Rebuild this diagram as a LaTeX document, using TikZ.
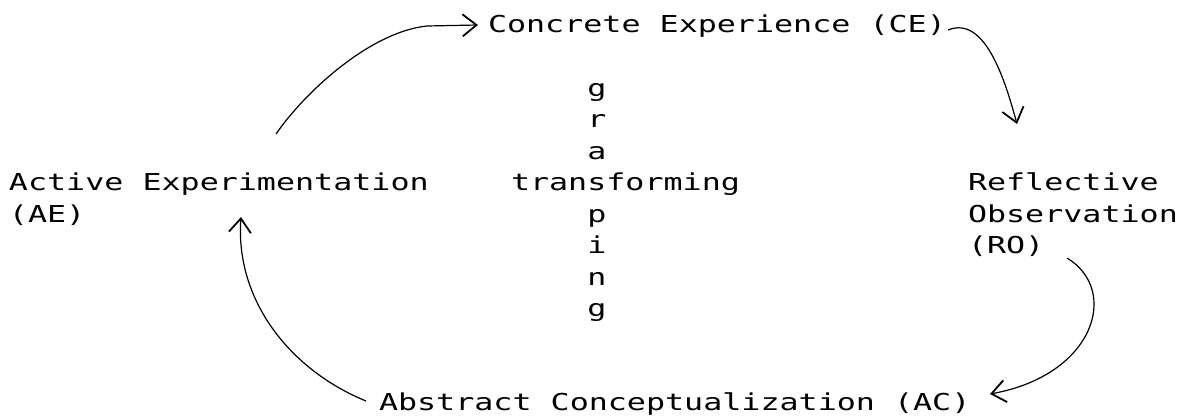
\documentclass[tikz,border=0pt]{standalone}
\usepackage{fontspec}
\newfontfamily\twfont[FakeStretch=1.36]{DejaVu Sans Mono}
\usetikzlibrary{arrows.meta}
\begin{document}
\begin{tikzpicture}[x=1pt,y=-1pt,
  lbl/.style={anchor=base west, inner sep=0pt, outer sep=0pt, align=left,
    font=\twfont\fontsize{23.3}{31.5}\selectfont},
  flow/.style={line width=1.2pt,
    -{Straight Barb[length=14pt,width=22pt,line width=1.8pt]}}]
\useasboundingbox (0,0) rectangle (1187,419);
% texts (a multi-line node's base is the baseline of its last line)
\node[lbl] (ce) at (488,33) {Concrete Experience (CE)};
\node[lbl] (ae) at (9,222.5) {Active Experimentation\\(AE)};
\node[lbl] (ro) at (968,254) {Reflective\\Observation\\(RO)};
\node[lbl] (ac) at (379,411) {Abstract Conceptualization (AC)};
\node[lbl] (tr) at (511,191) {transforming};
\node[lbl] (gu) at (587.3,159.5) {g\\r\\a};
\node[lbl] (gd) at (587.3,317) {p\\i\\n\\g};
% connector end points
\coordinate (a1s) at (276,134);
\coordinate (a1e) at (478,25);
\coordinate (a2s) at (948,30);
\coordinate (a2e) at (1017,124);
\coordinate (a3s) at (1067,258);
\coordinate (a3e) at (990,394);
\coordinate (a4s) at (366,401);
\coordinate (a4e) at (241,217);
% connectors
\draw[flow] (a1s) .. controls (305,92) and (370,32) .. (427,26) -- (a1e);
\draw[flow] (a2s) .. controls (985,15) and (1005,80) .. (a2e);
\draw[flow] (a3s) .. controls (1120,290) and (1095,375) .. (a3e);
\draw[flow] (a4s) .. controls (290,370) and (235,300) .. (a4e);
\end{tikzpicture}
\end{document}
